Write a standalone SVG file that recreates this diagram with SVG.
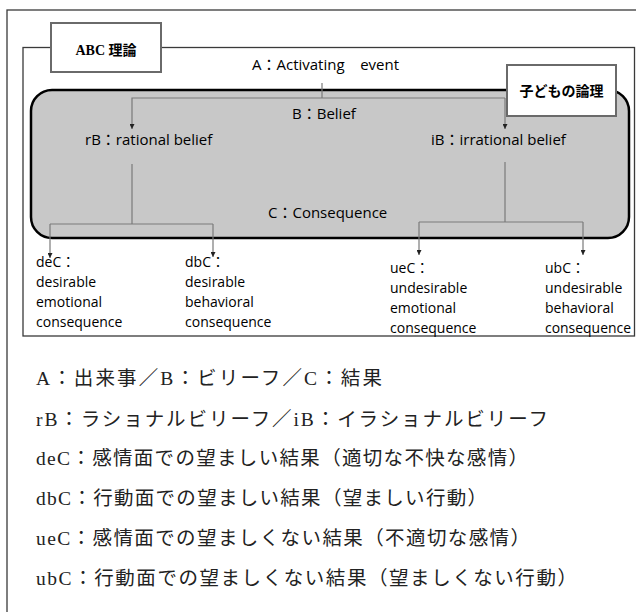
<svg xmlns="http://www.w3.org/2000/svg" width="636" height="612" viewBox="0 0 636 612">
<defs>
<style>
.frame{fill:none;stroke:#3a3a3a;stroke-width:1.3}
.lbl{fill:#fff;stroke:#6a6a6a;stroke-width:2}
.en{font-family:"Open Sans","Noto Sans CJK JP",sans-serif;font-size:15px;fill:#000;white-space:pre}
.sm{font-size:14px}
.ttl{font-family:"Liberation Serif","Noto Sans CJK JP",serif;font-size:14px;font-weight:bold;fill:#000}
.ttl2{font-family:"Noto Sans CJK JP",sans-serif;font-size:14px;font-weight:bold;fill:#000}
.jp{font-family:"Liberation Serif","Noto Sans CJK JP",serif;font-size:19.5px;fill:#222}
.cn{fill:none;stroke:#7a7a7a;stroke-width:1.2}
</style>
<marker id="ah" viewBox="0 0 6 6" refX="6" refY="3" markerWidth="5" markerHeight="5" markerUnits="userSpaceOnUse" orient="auto">
<path d="M0,0 L6,3 L0,6 Z" fill="#222"/>
</marker>
</defs>
<rect x="0" y="0" width="636" height="612" fill="#fff"/>
<g id="outer-frame">
<rect class="frame" x="7" y="10" width="640" height="610"/>
</g>
<g id="abc-frame">
<rect class="frame" x="23" y="47.5" width="611.5" height="288.5"/>
</g>
<g id="child-logic">
<rect x="31" y="90" width="598" height="148" rx="21" ry="21" fill="#c8c8c8" stroke="#000" stroke-width="2.5"/>
</g>
<g id="abc-label">
<rect class="lbl" x="51" y="23" width="110" height="49"/>
<text class="ttl" x="106" y="55" text-anchor="middle">ABC 理論</text>
</g>
<g id="child-label">
<rect class="lbl" x="507" y="65" width="109" height="51"/>
<text class="ttl2" x="561.5" y="96" text-anchor="middle">子どもの論理</text>
</g>
<g id="connectors">
<path class="cn" d="M322,83 V98"/>
<path class="cn" d="M505,98 H132 V129" marker-end="url(#ah)"/>
<path class="cn" d="M505,98 V129" marker-end="url(#ah)"/>
<path class="cn" d="M132,164 V224"/>
<path class="cn" d="M50,224 H213"/>
<path class="cn" d="M50,224 V258" marker-end="url(#ah)"/>
<path class="cn" d="M213,224 V257" marker-end="url(#ah)"/>
<path class="cn" d="M505,162 V222"/>
<path class="cn" d="M419,222 H583"/>
<path class="cn" d="M419,222 V255" marker-end="url(#ah)"/>
<path class="cn" d="M583,222 V255" marker-end="url(#ah)"/>
</g>
<g id="node-A"><text class="en" x="252" y="70">A：Activating    event</text></g>
<g id="node-B"><text class="en" x="292" y="119">B：Belief</text></g>
<g id="node-rB"><text class="en" x="85" y="145">rB：rational belief</text></g>
<g id="node-iB"><text class="en" x="431" y="145">iB：irrational belief</text></g>
<g id="node-C"><text class="en" x="268" y="218">C：Consequence</text></g>
<g id="node-deC"><text class="en sm" x="36" y="267">deC：<tspan x="36" dy="20">desirable</tspan><tspan x="36" dy="20">emotional</tspan><tspan x="36" dy="20">consequence</tspan></text></g>
<g id="node-dbC"><text class="en sm" x="185" y="267">dbC：<tspan x="185" dy="20">desirable</tspan><tspan x="185" dy="20">behavioral</tspan><tspan x="185" dy="20">consequence</tspan></text></g>
<g id="node-ueC"><text class="en sm" x="390" y="273">ueC：<tspan x="390" dy="20">undesirable</tspan><tspan x="390" dy="20">emotional</tspan><tspan x="390" dy="20">consequence</tspan></text></g>
<g id="node-ubC"><text class="en sm" x="545" y="273">ubC：<tspan x="545" dy="20">undesirable</tspan><tspan x="545" dy="20">behavioral</tspan><tspan x="545" dy="20" textLength="86" lengthAdjust="spacingAndGlyphs">consequence</tspan></text></g>
<g id="legend">
<text class="jp" x="36" y="385" textLength="346" lengthAdjust="spacing">A：出来事／B：ビリーフ／C：結果</text>
<text class="jp" x="36" y="426" textLength="512" lengthAdjust="spacing">rB：ラショナルビリーフ／iB：イラショナルビリーフ</text>
<text class="jp" x="36" y="465" textLength="492" lengthAdjust="spacing">deC：感情面での望ましい結果（適切な不快な感情）</text>
<text class="jp" x="36" y="505" textLength="451" lengthAdjust="spacing">dbC：行動面での望ましい結果（望ましい行動）</text>
<text class="jp" x="36" y="545" textLength="494" lengthAdjust="spacing">ueC：感情面での望ましくない結果（不適切な感情）</text>
<text class="jp" x="36" y="585" textLength="541" lengthAdjust="spacing">ubC：行動面での望ましくない結果（望ましくない行動）</text>
</g>
</svg>
